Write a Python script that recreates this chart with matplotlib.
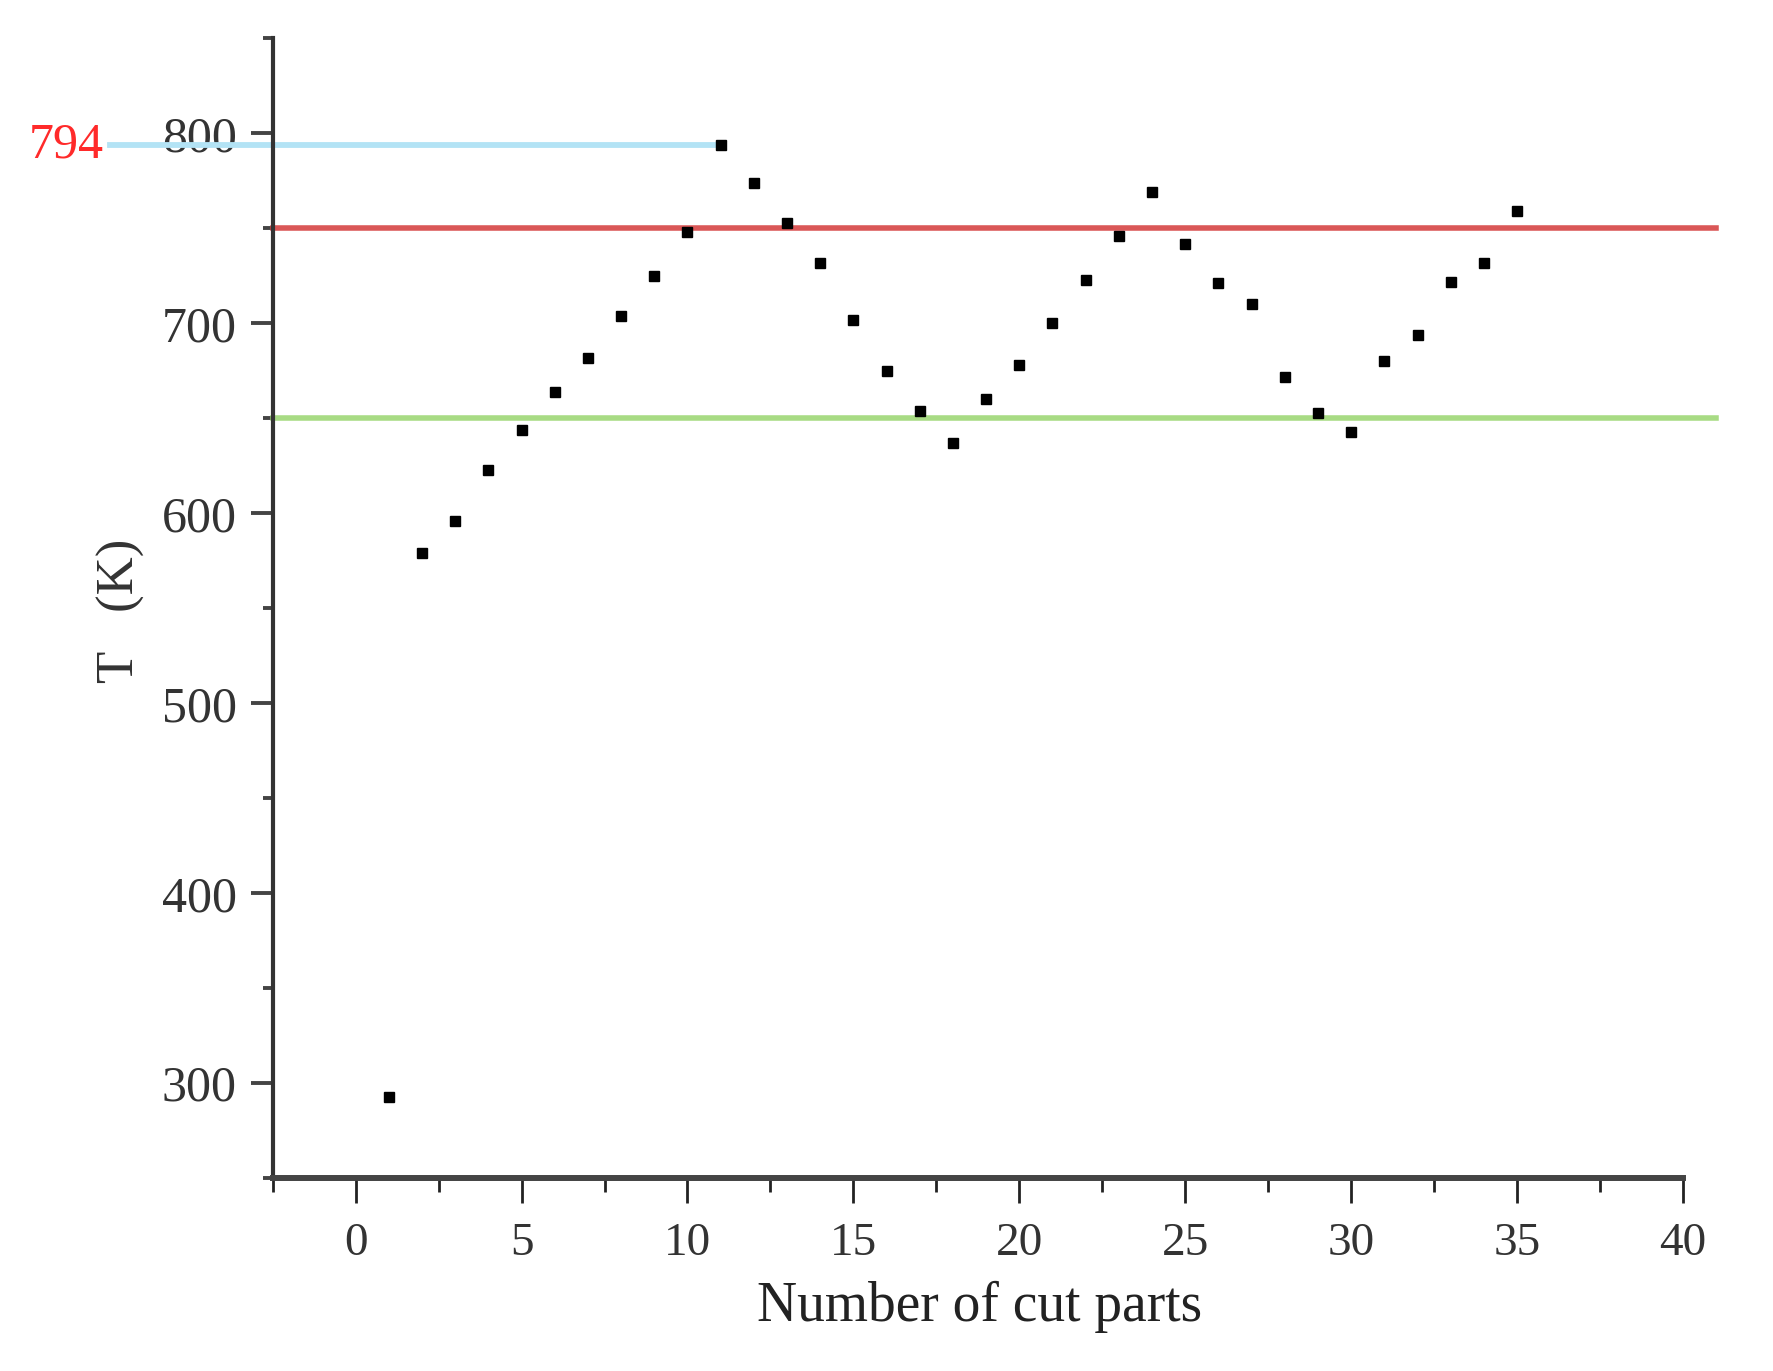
import matplotlib.pyplot as plt
from matplotlib.ticker import MultipleLocator

# data
parts = list(range(1, 36))
temps = [293, 579, 596, 623, 644, 664, 682, 704, 725, 748,
         794, 774, 753, 732, 702, 675, 654, 637, 660, 678,
         700, 723, 746, 769, 742, 721, 710, 672, 653, 643,
         680, 694, 722, 732, 759]
upper_limit = 750
lower_limit = 650
peak_value = 794
peak_part = 11

plt.rcParams['font.family'] = ['Liberation Serif', 'DejaVu Serif']

fig = plt.figure(figsize=(17.74, 13.71), dpi=100)
ax = fig.add_axes([0.1537, 0.1406, 0.9487 - 0.1537, 0.972 - 0.1406])

# reference lines (run slightly past the axis end, as in the original)
ax.plot([-2.5, 41], [upper_limit, upper_limit], color='#d64545', lw=4.0,
        alpha=0.9, clip_on=False, zorder=2)
ax.plot([-2.5, 41], [lower_limit, lower_limit], color='#9fd877', lw=4.0,
        alpha=0.9, clip_on=False, zorder=2)
ax.plot([-7.4, peak_part], [peak_value, peak_value], color='#b3e3f5', lw=4.2,
        clip_on=False, zorder=2)
ax.text(-7.6, peak_value, str(peak_value), color='#ff2a2a', fontsize=36,
        ha='right', va='center')

ax.plot(parts, temps, 's', color='black', markersize=7.5, zorder=3)

ax.set_xlim(-2.5, 40)
ax.set_ylim(250, 850)
ax.xaxis.set_major_locator(MultipleLocator(5))
ax.xaxis.set_minor_locator(MultipleLocator(2.5))
ax.yaxis.set_major_locator(MultipleLocator(100))
ax.yaxis.set_minor_locator(MultipleLocator(50))
ax.set_yticks([300, 400, 500, 600, 700, 800])

for side in ['top', 'right']:
    ax.spines[side].set_visible(False)
ax.spines['left'].set_linewidth(3.0)
ax.spines['left'].set_color('#333333')
ax.spines['bottom'].set_linewidth(4.3)
ax.spines['bottom'].set_color('#444444')

ax.tick_params(axis='x', which='major', direction='out', length=18, width=2.0,
               color='#222222', pad=14, labelsize=34, labelcolor='#333333')
ax.tick_params(axis='x', which='minor', direction='out', length=10, width=2.0,
               color='#222222')
ax.tick_params(axis='y', which='major', direction='out', length=16, width=2.8,
               color='#444444', pad=10, labelsize=36, labelcolor='#333333')
ax.tick_params(axis='y', which='minor', direction='out', length=7, width=2.8,
               color='#444444')

fig.text(121 / 1774, 1 - 611 / 1371, 'T   (K)', rotation=90, fontsize=38,
         ha='center', va='center', color='#333333')
fig.text(980 / 1774, 1 - 1307 / 1371, 'Number of cut parts', fontsize=40,
         ha='center', va='center', color='#222222')

fig.savefig('out.png', dpi=100)
